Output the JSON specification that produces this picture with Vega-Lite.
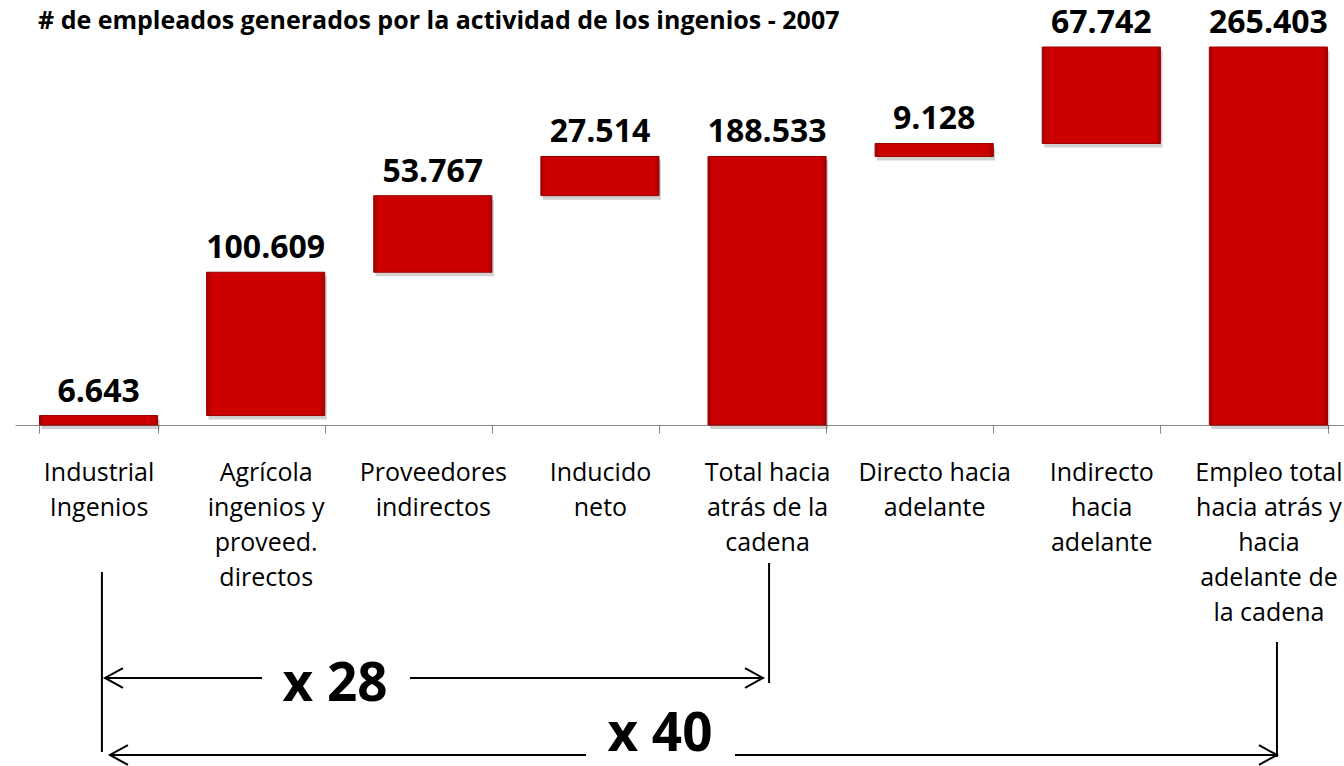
{
  "$schema": "https://vega.github.io/schema/vega-lite/v6.json",
  "autosize": {"type": "none"},
  "width": 1329,
  "height": 736,
  "padding": {"left": 15, "top": 30, "right": 0, "bottom": 0},
  "background": "white",
  "config": {
    "view": {"stroke": null},
    "font": "Open Sans",
    "locale": {"number": {"decimal": ",", "thousands": ".", "grouping": [3], "currency": ["", ""]}}
  },
  "title": {
    "text": "# de empleados generados por la actividad de los ingenios - 2007",
    "anchor": "start",
    "frame": "group",
    "dx": 23,
    "offset": -27,
    "font": "Open Sans",
    "fontSize": 25,
    "fontWeight": "bold",
    "color": "#000000"
  },
  "datasets": {
    "bars": [
      {"cat": "Industrial\nIngenios", "start": 0, "end": 6643, "value": 6643},
      {"cat": "Agrícola\ningenios y\nproveed.\ndirectos", "start": 6643, "end": 107252, "value": 100609},
      {"cat": "Proveedores\nindirectos", "start": 107252, "end": 161019, "value": 53767},
      {"cat": "Inducido\nneto", "start": 161019, "end": 188533, "value": 27514},
      {"cat": "Total hacia\natrás de la\ncadena", "start": 0, "end": 188533, "value": 188533},
      {"cat": "Directo hacia\nadelante", "start": 188533, "end": 197661, "value": 9128},
      {"cat": "Indirecto\nhacia\nadelante", "start": 197661, "end": 265403, "value": 67742},
      {"cat": "Empleo total\nhacia atrás y\nhacia\nadelante de\nla cadena", "start": 0, "end": 265403, "value": 265403}
    ],
    "lines": [
      {"x1": 0.52, "x2": 0.52, "y1": -103212, "y2": -229595},
      {"x1": 4.512, "x2": 4.512, "y1": -96893, "y2": -181148},
      {"x1": 7.551, "x2": 7.551, "y1": -152361, "y2": -233105},
      {"x1": 0.5385, "x2": 1.478, "y1": -177637, "y2": -177637},
      {"x1": 2.3635, "x2": 4.4757, "y1": -177637, "y2": -177637},
      {"x1": 0.568, "x2": 3.4166, "y1": -231701, "y2": -231701},
      {"x1": 4.308, "x2": 7.551, "y1": -231701, "y2": -231701}
    ],
    "heads": [
      {"px": 0.5385, "py": -177637, "dir": "left"},
      {"px": 4.4757, "py": -177637, "dir": "right"},
      {"px": 0.568, "py": -231701, "dir": "left"},
      {"px": 7.551, "py": -231701, "dir": "right"}
    ],
    "notes": [
      {"tx": 1.915, "ty": -193786, "t": "x 28"},
      {"tx": 3.859, "ty": -228892, "t": "x 40"}
    ]
  },
  "layer": [
    {
      "data": {"name": "bars"},
      "encoding": {
        "x": {
          "field": "cat",
          "type": "nominal",
          "sort": null,
          "scale": {"range": [0, 1337], "paddingInner": 0.293, "paddingOuter": 0.1465},
          "axis": {
            "title": null,
            "orient": "bottom",
            "offset": -341,
            "labelAngle": 0,
            "labelExpr": "split(datum.label, '\\n')",
            "labelFont": "Open Sans",
            "labelFontSize": 25,
            "labelColor": "#000000",
            "labelLineHeight": 35,
            "labelBaseline": "top",
            "labelPadding": 27,
            "labelOverlap": false,
            "labelLimit": 0,
            "tickBand": "extent",
            "tickSize": 8,
            "tickColor": "#878787",
            "tickWidth": 1,
            "domainColor": "#878787",
            "domainWidth": 1,
            "grid": false
          }
        },
        "y": {
          "field": "end",
          "type": "quantitative",
          "scale": {"domain": [-239426, 277339], "nice": false, "zero": false},
          "axis": null
        }
      },
      "layer": [
        {
          "mark": {"type": "bar", "color": "#000000", "opacity": 0.18, "xOffset": 2, "yOffset": 4, "y2Offset": 4},
          "encoding": {"y2": {"field": "start"}}
        },
        {
          "mark": {
            "type": "bar",
            "stroke": "#9a0000",
            "strokeWidth": 1,
            "color": {
              "gradient": "linear", "x1": 0, "y1": 0, "x2": 1, "y2": 0,
              "stops": [
                {"offset": 0, "color": "#a00000"},
                {"offset": 0.045, "color": "#cc0000"},
                {"offset": 0.955, "color": "#cc0000"},
                {"offset": 1, "color": "#a00000"}
              ]
            }
          },
          "encoding": {"y2": {"field": "start"}}
        },
        {
          "mark": {"type": "text", "font": "Open Sans", "fontWeight": "bold", "fontSize": 32, "baseline": "alphabetic", "align": "center", "dy": -14, "color": "#000000"},
          "encoding": {"text": {"field": "value", "type": "quantitative", "format": ",d"}}
        }
      ]
    },
    {
      "layer": [
        {
          "data": {"name": "lines"},
          "mark": {"type": "rule", "color": "#000000", "strokeWidth": 2},
          "encoding": {
            "x": {"field": "x1", "type": "quantitative", "scale": {"domain": [0, 8], "range": [0, 1337], "nice": false, "zero": false}, "axis": null},
            "x2": {"field": "x2"},
            "y": {"field": "y1", "type": "quantitative", "scale": {"domain": [-239426, 277339], "nice": false, "zero": false}, "axis": null},
            "y2": {"field": "y2"}
          }
        },
        {
          "data": {"name": "heads"},
          "mark": {"type": "point", "filled": false, "stroke": "#000000", "strokeWidth": 2, "size": 1296, "opacity": 1},
          "encoding": {
            "x": {"field": "px", "type": "quantitative", "scale": {"domain": [0, 8], "range": [0, 1337], "nice": false, "zero": false}, "axis": null},
            "y": {"field": "py", "type": "quantitative", "scale": {"domain": [-239426, 277339], "nice": false, "zero": false}, "axis": null},
            "shape": {"field": "dir", "type": "nominal", "scale": {"domain": ["left", "right"], "range": ["M1,-0.55L0,0L1,0.55", "M-1,-0.55L0,0L-1,0.55"]}, "legend": null}
          }
        },
        {
          "data": {"name": "notes"},
          "mark": {"type": "text", "font": "Open Sans", "fontWeight": "bold", "fontSize": 53, "baseline": "alphabetic", "align": "center", "color": "#000000"},
          "encoding": {
            "x": {"field": "tx", "type": "quantitative", "scale": {"domain": [0, 8], "range": [0, 1337], "nice": false, "zero": false}, "axis": null},
            "y": {"field": "ty", "type": "quantitative", "scale": {"domain": [-239426, 277339], "nice": false, "zero": false}, "axis": null},
            "text": {"field": "t"}
          }
        }
      ]
    }
  ],
  "resolve": {"scale": {"x": "independent"}, "axis": {"x": "independent"}}
}
